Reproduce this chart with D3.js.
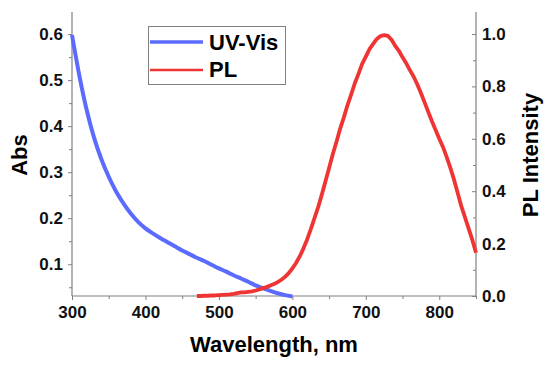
<!DOCTYPE html>
<html><head><meta charset="utf-8">
<script src="https://cdn.jsdelivr.net/npm/d3@7"></script>
<style>body{margin:0;background:#fff}svg{display:block;font-family:"Liberation Sans",Arial,sans-serif;font-weight:bold}</style>
</head><body>
<svg id="c" width="550" height="370"></svg>
<script>
const uvWavelength = [300,310,320,330,340,350,360,370,380,390,400,410,420,430,440,450,460,470,480,490,500,510,520,530,540,550,560,570,580,590,600];
const uvAbs = [0.598,0.51,0.435,0.375,0.328,0.29,0.258,0.232,0.21,0.192,0.178,0.167,0.157,0.148,0.139,0.130,0.122,0.114,0.107,0.099,0.091,0.084,0.076,0.069,0.062,0.054,0.048,0.042,0.037,0.033,0.030];
const plWavelength = [470,475,480,485,490,495,500,505,510,515,520,525,530,535,540,545,550,555,560,565,570,575,580,585,590,595,600,605,610,615,620,625,630,635,640,645,650,655,660,665,670,675,680,685,690,695,700,705,710,715,720,725,730,735,740,745,750,755,760,765,770,775,780,785,790,795,800,805,810,815,820,825,830,835,840,845,850];
const plIntensity = [0.000,0.000,0.001,0.001,0.002,0.002,0.003,0.004,0.005,0.006,0.008,0.011,0.014,0.014,0.016,0.018,0.021,0.025,0.030,0.034,0.040,0.046,0.053,0.062,0.073,0.087,0.105,0.126,0.151,0.181,0.215,0.254,0.296,0.338,0.386,0.437,0.489,0.541,0.588,0.638,0.681,0.728,0.769,0.812,0.848,0.886,0.914,0.942,0.962,0.981,0.992,0.996,0.993,0.978,0.955,0.936,0.911,0.888,0.862,0.838,0.808,0.775,0.739,0.703,0.667,0.634,0.600,0.569,0.531,0.490,0.445,0.394,0.343,0.300,0.257,0.214,0.165];
const xTicks = [300,400,500,600,700,800];
const absTicks = [0.1,0.2,0.3,0.4,0.5,0.6];
const plTicks = [0.0,0.2,0.4,0.6,0.8,1.0];
const seriesNames = ["UV-Vis","PL"];
const seriesColors = ["#5b6bff","#ef3434"];

const L=72,R=476,T=12,B=296;
const svg=d3.select("#c");
const x=d3.scaleLinear().domain([300,850]).range([L,R]);
const yA=d3.scaleLinear().domain([0.031,0.648]).range([B,T]);
const yP=d3.scaleLinear().domain([0,1.084]).range([B,T]);
const axCol="#808080";

function style(g){g.selectAll(".domain").remove();g.selectAll("line").attr("stroke",axCol);g.selectAll("text").attr("fill","#111").style("font-size","17px").style("font-weight","bold");}

// minor ticks
svg.append("g").attr("transform",`translate(0,${B})`).call(d3.axisBottom(x).tickValues(d3.range(350,851,100)).tickSize(3).tickFormat("")).call(style);
svg.append("g").attr("transform",`translate(${L},0)`).call(d3.axisLeft(yA).tickValues([0.05,0.15,0.25,0.35,0.45,0.55]).tickSize(3).tickFormat("")).call(style);
svg.append("g").attr("transform",`translate(${R},0)`).call(d3.axisLeft(yP).tickValues([0.1,0.3,0.5,0.7,0.9]).tickSize(3).tickFormat("")).call(style);
// major
svg.append("g").attr("transform",`translate(0,${B})`).call(d3.axisBottom(x).tickValues(xTicks).tickSize(4).tickPadding(6).tickFormat(d3.format("d"))).call(style);
svg.append("g").attr("transform",`translate(${L},0)`).call(d3.axisLeft(yA).tickValues(absTicks).tickSize(4).tickPadding(5).tickFormat(d3.format(".1f"))).call(style);
const gr=svg.append("g").attr("transform",`translate(${R},0)`).call(d3.axisLeft(yP).tickValues(plTicks).tickSize(4).tickFormat(d3.format(".1f"))).call(style);
gr.selectAll("text").attr("x",6).attr("text-anchor","start");

// axis lines
svg.append("line").attr("x1",L).attr("x2",R).attr("y1",B).attr("y2",B).attr("stroke",axCol).attr("stroke-width",1.2);
svg.append("line").attr("x1",L).attr("x2",L).attr("y1",T).attr("y2",B).attr("stroke",axCol).attr("stroke-width",1.2);
svg.append("line").attr("x1",R).attr("x2",R).attr("y1",T).attr("y2",B).attr("stroke",axCol).attr("stroke-width",1.2);

// curves
const uv=uvWavelength.map((w,i)=>[w,uvAbs[i]]);
const pl=plWavelength.map((w,i)=>[w,plIntensity[i]]);
svg.append("path").datum(uv).attr("fill","none").attr("stroke",seriesColors[0]).attr("stroke-width",4)
 .attr("d",d3.line().x(d=>x(d[0])).y(d=>yA(d[1])).curve(d3.curveMonotoneX));
svg.append("path").datum(pl).attr("fill","none").attr("stroke",seriesColors[1]).attr("stroke-width",3.8).attr("stroke-linejoin","round")
 .attr("d",d3.line().x(d=>x(d[0])).y(d=>yP(d[1])));

// titles
svg.append("text").attr("x",274).attr("y",352).attr("text-anchor","middle").style("font-size","22px").text("Wavelength, nm");
svg.append("text").attr("transform","translate(27,155) rotate(-90)").attr("text-anchor","middle").style("font-size","22px").text("Abs");
svg.append("text").attr("transform","translate(538,155) rotate(-90)").attr("text-anchor","middle").style("font-size","22px").text("PL Intensity");

// legend
svg.append("rect").attr("x",148.5).attr("y",26.5).attr("width",137).attr("height",58).attr("fill","#fff").attr("stroke",axCol);
const ly=[42,70], lw=[3.5,2.5], lb=[50,77];
seriesNames.forEach((n,i)=>{
  svg.append("line").attr("x1",150).attr("x2",203).attr("y1",ly[i]).attr("y2",ly[i]).attr("stroke",seriesColors[i]).attr("stroke-width",lw[i]);
  svg.append("text").attr("x",209).attr("y",lb[i]).style("font-size","22px").text(n);
});
</script>
</body></html>
